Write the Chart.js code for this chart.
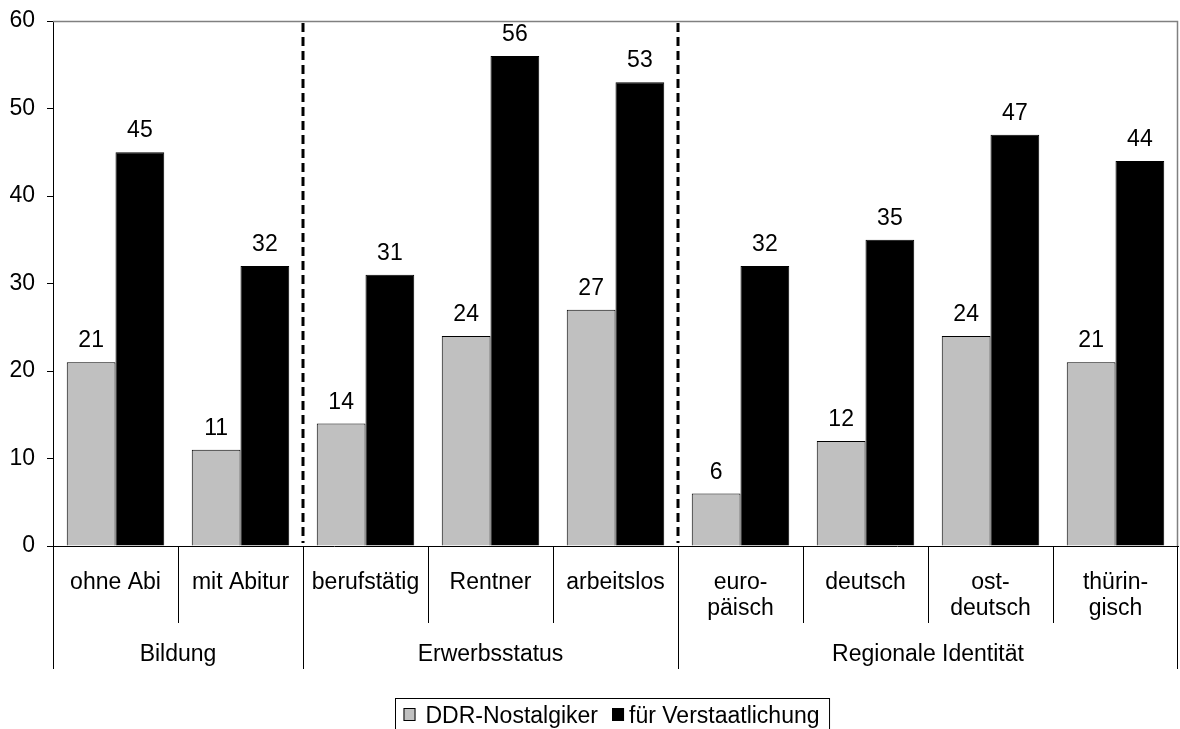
<!DOCTYPE html>
<html>
<head>
<meta charset="utf-8">
<script src="https://cdn.jsdelivr.net/npm/chart.js@4"></script>
<style>
  html, body { margin: 0; padding: 0; background: #fff; }
  #wrap { width: 1180px; height: 729px; }
</style>
</head>
<body>
<div id="wrap"><canvas id="chart" width="1180" height="729"></canvas></div>
<script>
// data
const categories = ["ohne Abi", "mit Abitur", "berufstätig", "Rentner", "arbeitslos",
  ["euro-", "päisch"], "deutsch", ["ost-", "deutsch"], ["thürin-", "gisch"]];
const groupNames = ["Bildung", "Erwerbsstatus", "Regionale Identität"];
const groupSizes = [2, 3, 4];
const nostalgiker = [21, 11, 14, 24, 27, 6, 12, 24, 21];
const verstaatlichung = [45, 32, 31, 56, 53, 32, 35, 47, 44];

const FONT = "'Liberation Sans', Arial, sans-serif";

// extra drawing: value labels, group axis, dashed separators, legend box
const extras = {
  id: "extras",
  afterDraw(chart) {
    const ctx = chart.ctx;
    const area = chart.chartArea;
    const n = categories.length;
    const step = (area.right - area.left) / n;
    const bx = i => Math.round(area.left + i * step) + 0.5;

    ctx.save();

    // grey border on top and right of plot
    ctx.strokeStyle = "#808080";
    ctx.lineWidth = 1.5;
    ctx.beginPath();
    ctx.moveTo(area.left, area.top + 0.5);
    ctx.lineTo(area.right - 0.5, area.top + 0.5);
    ctx.lineTo(area.right - 0.5, area.bottom);
    ctx.stroke();

    // value labels
    ctx.fillStyle = "#000";
    ctx.font = "23px " + FONT;
    ctx.textAlign = "center";
    ctx.textBaseline = "alphabetic";
    chart.data.datasets.forEach((ds, di) => {
      chart.getDatasetMeta(di).data.forEach((bar, i) => {
        ctx.fillText(String(ds.data[i]), bar.x, bar.y - 15);
      });
    });

    // group boundaries
    const starts = [0];
    groupSizes.forEach(s => starts.push(starts[starts.length - 1] + s));

    // category separators below the axis
    ctx.strokeStyle = "#000";
    ctx.lineWidth = 1;
    for (let i = 0; i <= n; i++) {
      const isGroup = starts.includes(i);
      const x = i === n ? bx(i) - 1 : bx(i);
      ctx.beginPath();
      ctx.moveTo(x, area.bottom);
      ctx.lineTo(x, isGroup ? area.bottom + 123 : area.bottom + 77);
      ctx.stroke();
    }

    // group labels
    groupNames.forEach((g, k) => {
      const x0 = area.left + starts[k] * step;
      const x1 = area.left + starts[k + 1] * step;
      ctx.fillText(g, (x0 + x1) / 2, area.bottom + 115);
    });

    // dashed separators inside the plot
    ctx.lineWidth = 3;
    ctx.setLineDash([9, 5]);
    starts.slice(1, -1).forEach(i => {
      const x = Math.round(area.left + i * step);
      ctx.beginPath();
      ctx.moveTo(x, area.top + 2);
      ctx.lineTo(x, area.bottom - 3);
      ctx.stroke();
    });
    ctx.setLineDash([]);

    // legend
    const ds = chart.data.datasets;
    ctx.textAlign = "left";
    const w1 = ctx.measureText(ds[0].label).width;
    const w2 = ctx.measureText(ds[1].label).width;
    const boxW = 8 + 12 + 10 + w1 + 14 + 12 + 5 + w2 + 10;
    const lx = Math.round(612 - boxW / 2) + 0.5;
    const ly = 698.5;
    ctx.lineWidth = 1;
    ctx.strokeStyle = "#000";
    ctx.strokeRect(lx, ly, boxW, 40);
    let x = lx + 8;
    [[ds[0], w1, 10, 14], [ds[1], w2, 5, 0]].forEach(([d, w, gap, after]) => {
      ctx.fillStyle = d.backgroundColor;
      ctx.fillRect(x, 708, 12, 13);
      ctx.strokeStyle = "#000";
      ctx.strokeRect(x + 0.5, 708.5, 11, 12);
      x += 12 + gap;
      ctx.fillStyle = "#000";
      ctx.fillText(d.label, x, 723);
      x += w + after;
    });

    ctx.restore();
  }
};

new Chart(document.getElementById("chart").getContext("2d"), {
  type: "bar",
  data: {
    labels: categories,
    datasets: [
      {
        label: "DDR-Nostalgiker",
        data: nostalgiker,
        backgroundColor: "#c0c0c0",
        borderColor: "#000",
        borderWidth: 1
      },
      {
        label: "für Verstaatlichung",
        data: verstaatlichung,
        backgroundColor: "#000",
        borderColor: "#000",
        borderWidth: 1
      }
    ]
  },
  options: {
    responsive: false,
    animation: false,
    devicePixelRatio: 1,
    layout: { padding: { top: 21, right: 2, bottom: 60, left: 0 } },
    datasets: { bar: { categoryPercentage: 0.78, barPercentage: 1.0 } },
    plugins: {
      legend: { display: false },
      tooltip: { enabled: false }
    },
    scales: {
      x: {
        grid: { display: false },
        border: { display: true, color: "#000", width: 1 },
        ticks: {
          color: "#000",
          font: { family: FONT, size: 23, lineHeight: 1.15 },
          padding: 15,
          maxRotation: 0,
          autoSkip: false
        },
        afterFit(scale) { scale.height = 123; }
      },
      y: {
        min: 0,
        max: 60,
        grid: { drawOnChartArea: false, drawTicks: true, tickLength: 6, color: "#000" },
        border: { display: true, color: "#000", width: 1 },
        ticks: {
          stepSize: 10,
          color: "#000",
          padding: 12,
          font: { family: FONT, size: 23 }
        },
        afterFit(scale) {
          scale.width = 53;
          scale.paddingTop = 0;
          scale.paddingBottom = 0;
        }
      }
    }
  },
  plugins: [extras]
});
</script>
</body>
</html>
